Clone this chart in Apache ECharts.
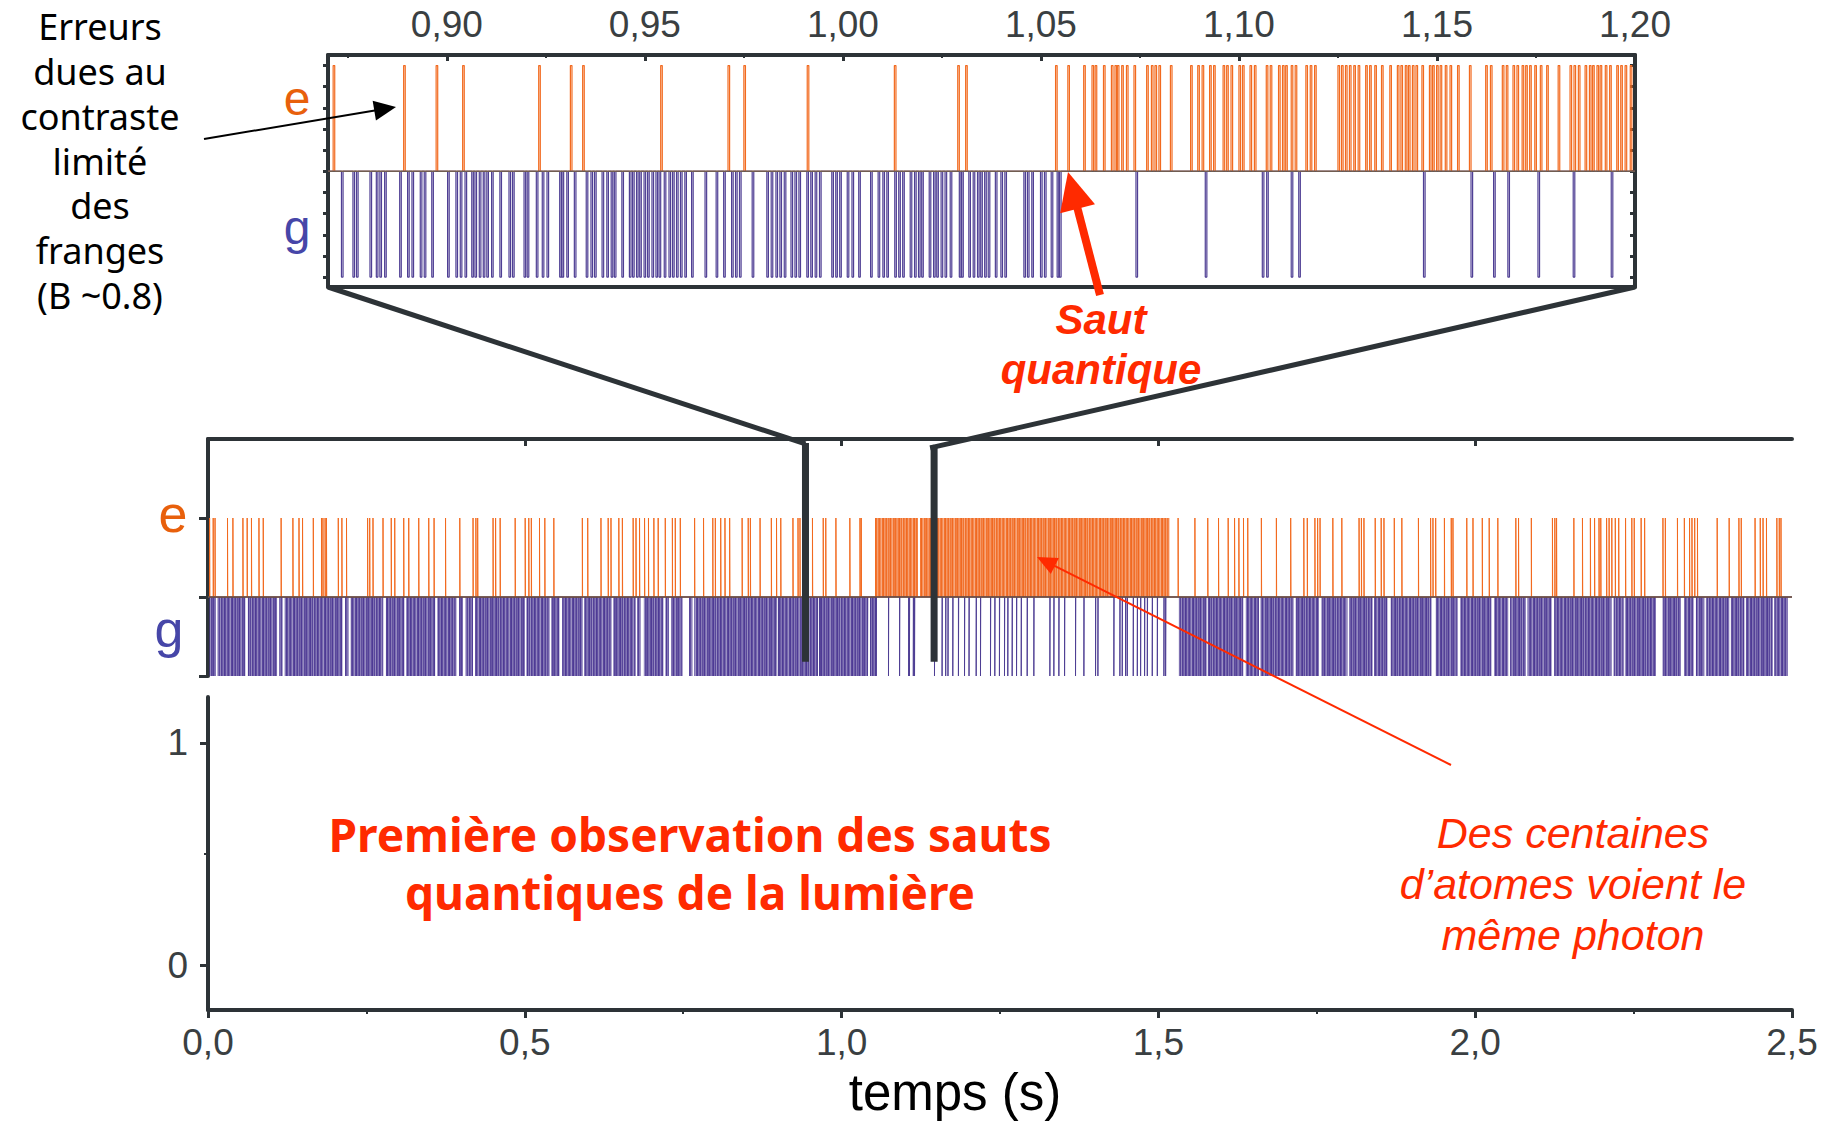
<!DOCTYPE html>
<html><head><meta charset="utf-8">
<script src="https://cdn.jsdelivr.net/npm/echarts@6/dist/echarts.min.js"></script>
<style>html,body{margin:0;padding:0;background:#fff}#c{width:1831px;height:1124px}</style>
</head><body><div id="c"></div>
<script>
// ---------------- DATA (times in seconds) ----------------
// detections in state e (each is one short pulse)
const eClicks = [
 0.0025,0.0082,0.0111,0.0308,0.0393,0.0551,0.0618,0.0686,0.0804,0.0872,0.1154,0.1340,0.1436,0.1492,0.1662,
 0.1791,0.1814,0.1848,0.1870,0.2056,0.2113,0.2186,0.2519,0.2552,0.2604,0.2762,0.2892,0.2947,0.3089,0.3168,
 0.3326,0.3484,0.3568,0.3749,0.3974,0.4183,0.4228,0.4256,0.4499,0.4539,0.4611,0.4848,0.5006,0.5063,0.5103,
 0.5232,0.5316,0.5458,0.5908,0.5993,0.6202,0.6316,0.6360,0.6484,0.6540,0.6710,0.6755,0.6811,0.6890,0.6952,
 0.7037,0.7105,0.7217,0.7329,0.7375,0.7454,0.7680,0.7821,0.7967,0.8007,0.8092,0.8159,0.8233,0.8430,0.8526,0.8560,
 0.8713,0.8891,0.8973,0.9040,0.9232,0.9312,0.9343,0.9540,0.9710,0.9750,0.9910,1.0130,1.0290,1.0310,
 1.0537,1.0568,1.0608,1.0629,1.0637,1.0658,1.0678,1.0687,1.0693,1.0704,1.0716,1.0735,1.0767,1.0779,1.0788,
 1.0798,1.0827,1.0878,1.0896,1.0907,1.0926,1.0936,1.0960,1.0969,1.0980,1.1000,1.1009,1.1028,1.1039,1.1069,
 1.1079,1.1100,1.1110,1.1118,1.1132,1.1142,1.1169,1.1180,1.1191,1.1250,1.1259,1.1269,1.1279,1.1290,1.1301,
 1.1320,1.1330,1.1343,1.1360,1.1381,1.1400,1.1409,1.1420,1.1428,1.1438,1.1447,1.1462,1.1481,1.1489,1.1499,
 1.1508,1.1521,1.1533,1.1552,1.1582,1.1623,1.1635,1.1665,1.1675,1.1692,1.1702,1.1715,1.1724,1.1734,1.1747,
 1.1761,1.1777,1.1806,1.1836,1.1846,1.1857,1.1874,1.1885,1.1893,1.1904,1.1912,1.1925,1.1936,1.1954,1.1964,
 1.1975,1.1988,
 1.5311,1.5576,1.5779,1.5949,1.6101,1.6202,1.6270,1.6343,1.6410,1.6625,1.6862,1.7088,1.7295,1.7350,1.7470,
 1.7513,1.7551,1.7753,1.7895,1.8167,1.8204,1.8244,1.8422,1.8516,1.8560,1.8723,1.8842,1.9104,1.9296,1.9333,
 1.9376,1.9514,1.9622,1.9649,1.9867,1.9965,2.0112,2.0221,2.0357,2.0641,2.0684,2.0886,2.1219,2.1257,2.1284,
 2.1557,2.1693,2.1818,2.1884,2.1954,2.1982,2.2074,2.2113,2.2156,2.2211,2.2265,2.2373,2.2472,2.2510,2.2619,
 2.2674,2.2963,2.3001,2.3192,2.3301,2.3383,2.3421,2.3464,2.3508,2.3819,2.4008,2.4162,2.4199,2.4417,2.4499,
 2.4543,2.4597,2.4761,2.4799,2.4826
];
// detections in state g (individually resolvable ones)
const gClicks = [
 0.8734,0.8763,0.8772,0.8806,0.8822,0.8831,0.8843,0.8881,0.8901,0.8912,0.8933,0.8943,0.8962,0.9002,0.9023,
 0.9034,0.9046,0.9063,0.9071,0.9082,0.9092,0.9101,0.9113,0.9134,0.9157,0.9166,0.9195,0.9203,0.9226,0.9241,
 0.9253,0.9285,0.9291,0.9303,0.9322,0.9352,0.9364,0.9373,0.9392,0.9404,0.9415,0.9423,0.9442,0.9461,0.9469,
 0.9479,0.9487,0.9498,0.9507,0.9518,0.9528,0.9536,0.9549,0.9561,0.9570,0.9580,0.9590,0.9601,0.9618,0.9652,
 0.9680,0.9699,0.9719,0.9729,0.9739,0.9771,0.9808,0.9819,0.9831,0.9841,0.9852,0.9869,0.9879,0.9889,0.9909,
 0.9919,0.9930,0.9941,0.9972,0.9982,0.9992,1.0011,1.0023,1.0040,1.0070,1.0089,1.0101,1.0111,1.0131,1.0141,
 1.0151,1.0170,1.0181,1.0191,1.0199,1.0218,1.0229,1.0237,1.0248,1.0258,1.0271,1.0294,1.0300,1.0318,1.0329,
 1.0340,1.0348,1.0358,1.0367,1.0385,1.0399,1.0409,1.0457,1.0466,1.0477,1.0499,1.0509,1.0526,1.0541,1.0547,
 1.0740,1.0915,1.1059,1.1070,1.1132,1.1151,1.1466,1.1586,1.1643,1.1679,1.1755,1.1844,1.1940,
 1.2011,1.2124,1.2192,1.2350,1.2418,1.2491,1.2571,1.2623,1.2692,1.2761,1.2835,1.2929,1.3034,1.3287,1.3350,
 1.3429,1.3519,1.3692,1.3824,1.4008,1.4045,1.4297,1.4392,1.4429,1.4482,1.4508,1.4603,1.4667,1.4719,1.4782,
 1.4825,1.4903,1.4983,1.5087,1.5114
];
// periods (main plot) where detections are too dense to separate at that scale [start, end]
const eDense = [[1.0537, 1.1191], [1.1250, 1.5171]];
const gDense = [
 [0.0020,0.0126],[0.0153,0.0588],[0.0630,0.1090],[0.1126,0.1180],[0.1211,0.2121],[0.2162,0.2216],
 [0.2252,0.2765],[0.2808,0.3098],[0.3125,0.3585],[0.3617,0.3918],[0.3961,0.4024],[0.4067,0.4182],
 [0.4214,0.5001],[0.5028,0.5388],[0.5414,0.5546],[0.5589,0.5916],[0.5938,0.6366],[0.6393,0.6747],
 [0.6773,0.6826],[0.6879,0.7186],[0.7222,0.7276],[0.7312,0.7487],[0.7593,0.7645],[0.7672,0.8962],
 [0.9002,0.9618],[0.9652,1.0409],[1.0457,1.0547],
 [1.5324,1.5760],[1.5780,1.6340],[1.6380,1.6588],[1.6614,1.7130],[1.7167,1.7535],[1.7573,1.7983],
 [1.8009,1.8378],[1.8403,1.8614],[1.8668,1.9309],[1.9378,1.9720],[1.9762,2.0257],[2.0299,2.0520],
 [2.0551,2.0799],[2.0826,2.1205],[2.1246,2.2152],[2.2184,2.2342],[2.2363,2.2852],[2.2957,2.3247],
 [2.3299,2.3447],[2.3484,2.3616],[2.3642,2.4010],[2.4036,2.4247],[2.4273,2.4695],[2.4721,2.4932]
];
const SAMPLE = 0.0004;               // duration of one detection pulse (s)
// tick labels / tick positions
const insetLabelTicks = [0.90, 0.95, 1.00, 1.05, 1.10, 1.15, 1.20];
const insetMinorTicks = [0.875, 0.925, 0.975, 1.025, 1.075, 1.125, 1.175];
const insetLevelTicks = [0, 0.2, 0.4, 0.6, 0.8, 1.0, 1.2, 1.4, 1.6, 1.8, 2.0];
const mainTopTicks = [0.5, 1.0, 1.5, 2.0];
const traceLevelTicks = [0, 1, 2];
const yLabelTicks = [0, 1];
const yMinorTicks = [0.5];

// ---------------- LAYOUT / STYLE ----------------
const G = 0, BASE = 1, E = 2;          // trace levels (g, baseline, e)
const AX = '#2d3337', LBL = '#3a3f42';
const ORANGE = '#f26a1f', PURPLE = '#4f3f94', RED = '#ff2a00';
const ZOOM_MARK = [0.943, 1.146];
// streaky texture used to paint densely packed pulses (style only)
const STREAK = [0.95,0.55,0.85,0.35,0.9,0.7,0.5,0.95,0.8,0.4,0.75,0.9,0.6,0.3,0.85,0.95,0.5,0.7,0.9,0.45,0.8,0.65,0.95,0.55,0.35,0.85,0.75,0.9,0.6,0.5,0.8];
function streakPattern(rgb) {
  const c = document.createElement('canvas'); c.width = STREAK.length; c.height = 4;
  const ctx = c.getContext('2d');
  STREAK.forEach((a, i) => { ctx.fillStyle = 'rgba(' + rgb + ',' + a + ')'; ctx.fillRect(i, 0, 1, 4); });
  return { image: c, repeat: 'repeat', imageWidth: c.width, imageHeight: c.height };
}
const PAT_G = streakPattern('72,52,145');
const PAT_E = streakPattern('240,100,25');

const inside = (t, spans) => spans.some(s => t > s[0] && t < s[1]);
function trace(times, level, from, to, skip) {
  const pts = [[from, BASE]];
  times.forEach(t => {
    if (t >= from && t <= to && !(skip && inside(t, skip)))
      pts.push([t, BASE], [t, level], [t + SAMPLE, level], [t + SAMPLE, BASE]);
  });
  pts.push([to, BASE]);
  return pts;
}
const lineSeries = (data, color, w, xi, yi, z) => ({
  type: 'line', data, xAxisIndex: xi, yAxisIndex: yi, symbol: 'none', silent: true, z: z || 2,
  lineStyle: { color, width: w }, animation: false, clip: true
});

const chart = echarts.init(document.getElementById('c'), null, { renderer: 'svg' });
const fmt2 = v => v.toFixed(2).replace('.', ',');
const fmt1 = v => v.toFixed(1).replace('.', ',');
const line4 = { show: true, onZero: false, lineStyle: { color: AX, width: 4 } };
const noLine = { show: false, onZero: false };
const INSET_YMIN = -0.094, INSET_YMAX = 2.1;

chart.setOption({
  animation: false,
  grid: [
    { left: 328, top: 55, width: 1307, height: 232 },
    { left: 208, top: 439, width: 1584, height: 237 },
    { left: 208, top: 697, width: 1584, height: 313 }
  ],
  xAxis: [
    { gridIndex: 0, type: 'value', position: 'top', min: 0.87, max: 1.20, axisLine: line4,
      axisTick: { show: true, inside: true, length: 6, customValues: insetLabelTicks, lineStyle: { color: AX, width: 3 } },
      axisLabel: { show: true, customValues: insetLabelTicks, formatter: fmt2, fontSize: 37, color: LBL,
        fontFamily: 'Liberation Sans, Arial, sans-serif', margin: 12 },
      splitLine: { show: false } },
    { gridIndex: 0, type: 'value', position: 'top', min: 0.87, max: 1.20, axisLine: noLine,
      axisTick: { show: true, inside: true, length: 3, customValues: insetMinorTicks, lineStyle: { color: AX, width: 2 } },
      axisLabel: { show: false }, splitLine: { show: false } },
    { gridIndex: 0, type: 'value', position: 'bottom', min: 0.87, max: 1.20, axisLine: line4,
      axisTick: { show: false }, axisLabel: { show: false }, splitLine: { show: false } },
    { gridIndex: 1, type: 'value', position: 'top', min: 0, max: 2.5, axisLine: line4,
      axisTick: { show: true, inside: true, length: 7, customValues: mainTopTicks, lineStyle: { color: AX, width: 3 } },
      axisLabel: { show: false }, splitLine: { show: false } },
    { gridIndex: 2, type: 'value', position: 'bottom', min: 0, max: 2.5, interval: 0.5, axisLine: line4,
      axisTick: { show: true, inside: false, length: 8, lineStyle: { color: AX, width: 3 } },
      minorTick: { show: true, splitNumber: 2, length: 4, lineStyle: { color: AX, width: 2 } },
      axisLabel: { show: true, formatter: fmt1, fontSize: 37, color: LBL,
        fontFamily: 'Liberation Sans Narrow, Liberation Sans, Arial, sans-serif', margin: 14 },
      splitLine: { show: false }, minorSplitLine: { show: false } }
  ],
  yAxis: [
    { gridIndex: 0, type: 'value', position: 'left', min: INSET_YMIN, max: INSET_YMAX, axisLine: line4,
      axisTick: { show: true, inside: false, length: 5, customValues: insetLevelTicks, lineStyle: { color: AX, width: 3 } },
      axisLabel: { show: false }, splitLine: { show: false } },
    { gridIndex: 0, type: 'value', position: 'right', min: INSET_YMIN, max: INSET_YMAX, axisLine: line4,
      axisTick: { show: true, inside: true, length: 5, customValues: insetLevelTicks, lineStyle: { color: AX, width: 3 } },
      axisLabel: { show: false }, splitLine: { show: false } },
    { gridIndex: 1, type: 'value', position: 'left', min: 0, max: 3, axisLine: line4,
      axisTick: { show: true, inside: false, length: 9, customValues: traceLevelTicks, lineStyle: { color: AX, width: 3 } },
      axisLabel: { show: false }, splitLine: { show: false } },
    { gridIndex: 2, type: 'value', position: 'left', min: -0.2027, max: 1.2072, axisLine: line4,
      axisTick: { show: true, inside: false, length: 8, customValues: yLabelTicks, lineStyle: { color: AX, width: 3 } },
      axisLabel: { show: true, customValues: yLabelTicks, fontSize: 37, color: LBL,
        fontFamily: 'Liberation Sans Narrow, Liberation Sans, Arial, sans-serif', margin: 20 },
      splitLine: { show: false } },
    { gridIndex: 2, type: 'value', position: 'left', min: -0.2027, max: 1.2072, axisLine: noLine,
      axisTick: { show: true, inside: false, length: 4, customValues: yMinorTicks, lineStyle: { color: AX, width: 2 } },
      axisLabel: { show: false }, splitLine: { show: false } }
  ],
  series: [
    // inset
    lineSeries(trace(gClicks, G, 0.87, 1.20), PURPLE, 1.2, 0, 0),
    lineSeries(trace(eClicks, E, 0.87, 1.20), ORANGE, 1.2, 0, 0),
    lineSeries([[0.87, BASE], [1.20, BASE]], 'rgba(90,90,90,0.85)', 1.6, 0, 0, 3),
    // main
    { type: 'custom', xAxisIndex: 3, yAxisIndex: 2, silent: true, animation: false, clip: true, z: 1,
      data: gDense.map(d => [d[0], d[1], G]).concat(eDense.map(d => [d[0], d[1], E])),
      renderItem: (params, api) => {
        const a = api.coord([api.value(0), BASE]);
        const b = api.coord([api.value(1), api.value(2)]);
        const isE = api.value(2) === E;
        const shape = { x: a[0], y: Math.min(a[1], b[1]), width: b[0] - a[0], height: Math.abs(b[1] - a[1]) };
        return { type: 'group', children: [
          { type: 'rect', shape, style: { fill: isE ? 'rgba(240,100,25,0.35)' : 'rgba(72,52,145,0.35)' } },
          { type: 'rect', shape, style: { fill: isE ? PAT_E : PAT_G } }
        ] };
      } },
    lineSeries(trace(gClicks, G, 0, 2.5, gDense), PURPLE, 1, 3, 2),
    lineSeries(trace(eClicks, E, 0, 2.5, eDense), ORANGE, 1, 3, 2),
    lineSeries([[0, BASE], [2.5, BASE]], 'rgba(70,70,70,0.85)', 1.6, 3, 2, 3)
  ]
});

// ---------------- annotations ----------------
function arrow(x1, y1, x2, y2, w, hl, hw, color) {
  const dx = x2 - x1, dy = y2 - y1, L = Math.hypot(dx, dy), ux = dx / L, uy = dy / L;
  const bx = x2 - ux * hl, by = y2 - uy * hl, px = -uy, py = ux;
  return [
    { type: 'line', shape: { x1, y1, x2: bx + ux * 2, y2: by + uy * 2 }, style: { stroke: color, lineWidth: w }, silent: true, z: 50 },
    { type: 'polygon', shape: { points: [[x2, y2], [bx + px * hw / 2, by + py * hw / 2], [bx - px * hw / 2, by - py * hw / 2]] },
      style: { fill: color }, silent: true, z: 50 }
  ];
}
const P = (f, v) => chart.convertToPixel(f, v);
const iBL = P({ xAxisIndex: 0, yAxisIndex: 0 }, [0.87, INSET_YMIN]);
const iBR = P({ xAxisIndex: 0, yAxisIndex: 0 }, [1.20, INSET_YMIN]);
const m1t = P({ xAxisIndex: 3, yAxisIndex: 2 }, [ZOOM_MARK[0], 2.9]);
const m1b = P({ xAxisIndex: 3, yAxisIndex: 2 }, [ZOOM_MARK[0], 0.18]);
const m2t = P({ xAxisIndex: 3, yAxisIndex: 2 }, [ZOOM_MARK[1], 2.9]);
const m2b = P({ xAxisIndex: 3, yAxisIndex: 2 }, [ZOOM_MARK[1], 0.18]);

const txt = (text, x, y, font, fill, lh) => ({
  type: 'text', silent: true, z: 60,
  style: { text, x, y, font, fill, align: 'center', verticalAlign: 'middle', textAlign: 'center', textVerticalAlign: 'middle', lineHeight: lh }
});

chart.setOption({
  graphic: [].concat(
    [
      { type: 'polyline', shape: { points: [iBL, [m1t[0], m1t[1] - 3]] }, style: { stroke: AX, lineWidth: 5, fill: null }, silent: true, z: 40 },
      { type: 'line', shape: { x1: m1t[0], y1: m1t[1] - 4, x2: m1b[0], y2: m1b[1] }, style: { stroke: AX, lineWidth: 7 }, silent: true, z: 40 },
      { type: 'polyline', shape: { points: [iBR, [m2t[0] - 4, m2t[1] + 1], [m2t[0], m2t[1]]] }, style: { stroke: AX, lineWidth: 5, fill: null }, silent: true, z: 40 },
      { type: 'line', shape: { x1: m2t[0], y1: m2t[1] - 2, x2: m2b[0], y2: m2b[1] }, style: { stroke: AX, lineWidth: 7 }, silent: true, z: 40 }
    ],
    arrow(204, 139, 396, 107, 2, 22, 20, '#000'),
    arrow(1100, 295, 1068, 172, 8, 38, 36, RED),
    arrow(1451, 765, 1037, 557, 2, 20, 18, RED),
    [
      txt('Erreurs\ndues au\ncontraste\nlimité\ndes\nfranges\n(B ~0.8)', 100, 161, '36px "Comic Sans MS", "Noto Sans", sans-serif', '#000', 44.7),
      txt('e', 297, 98, '48px "Liberation Sans", Arial, sans-serif', '#e8600c'),
      txt('g', 297, 227, '48px "Liberation Sans", Arial, sans-serif', '#4646a8'),
      txt('e', 173, 514, '52px "Liberation Sans", Arial, sans-serif', '#e8600c'),
      txt('g', 169, 629, '52px "Liberation Sans", Arial, sans-serif', '#4646a8'),
      txt('Saut\nquantique', 1101, 344, 'italic bold 42px "Liberation Sans", Arial, sans-serif', RED, 50),
      txt('Première observation des sauts\nquantiques de la lumière', 690, 863, 'bold 46px "Comic Sans MS", "Noto Sans", sans-serif', RED, 58),
      txt('Des centaines\nd’atomes voient le\nmême photon', 1573, 884, 'italic 43px "Liberation Sans", Arial, sans-serif', RED, 51),
      txt('temps (s)', 955, 1092, '51px "Liberation Sans", Arial, sans-serif', '#000')
    ]
  )
});
</script></body></html>
